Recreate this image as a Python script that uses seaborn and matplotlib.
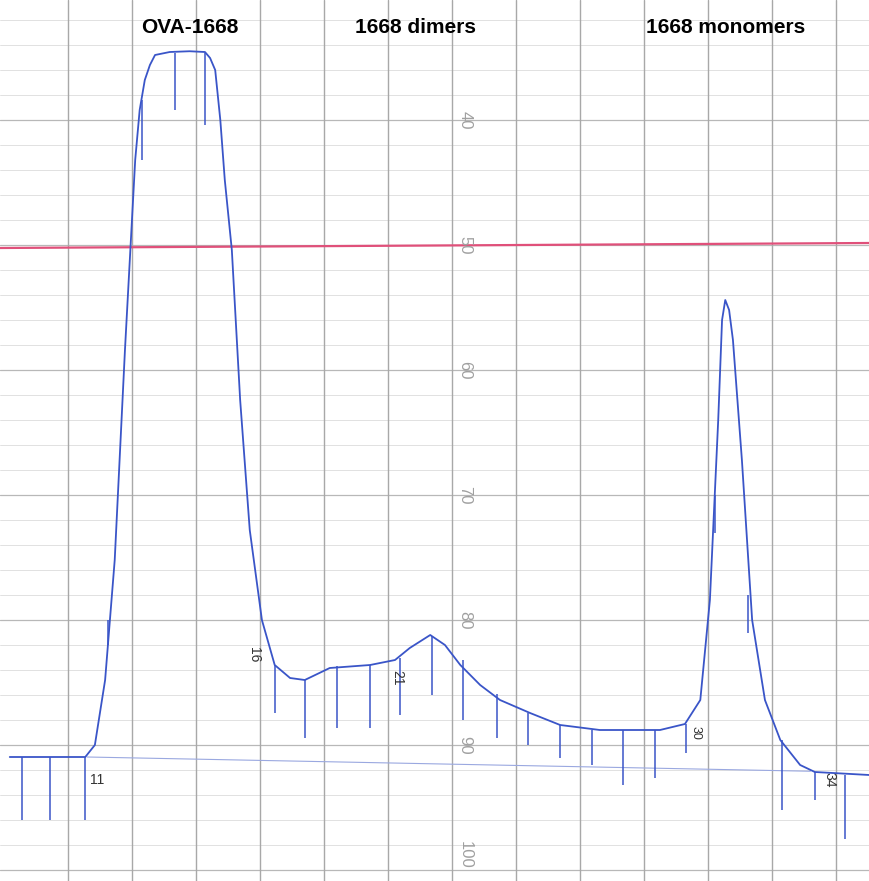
import numpy as np
import matplotlib.pyplot as plt
import seaborn as sns

sns.set_theme(style='white')
plt.rcParams['font.family'] = ['Liberation Sans', 'DejaVu Sans']

# chromatogram trace (chart divisions, % scale)
time = [-0.91, 0.27, 0.42, 0.58, 0.73, 0.89, 1.05, 1.12, 1.20, 1.28, 1.36, 1.59,
        1.90, 2.14, 2.22, 2.30, 2.38, 2.45, 2.56, 2.69, 2.84, 3.03, 3.23, 3.47,
        3.70, 4.09, 4.72, 5.11, 5.34, 5.66, 5.89, 6.13, 6.44, 6.75, 7.22, 7.69,
        8.31, 9.25, 9.64, 9.88, 10.03, 10.16, 10.22, 10.27, 10.33, 10.39, 10.53,
        10.69, 10.89, 11.13, 11.44, 11.67, 12.52]
signal = [90.96, 90.96, 90.0, 84.8, 75.2, 58.4, 43.2, 39.2, 36.8, 35.6, 34.8, 34.56,
          34.5, 34.56, 35.04, 36.0, 40.0, 44.8, 50.4, 62.4, 72.8, 80.0, 83.6, 84.64,
          84.8, 83.84, 83.6, 83.2, 82.24, 81.2, 82.0, 83.6, 85.2, 86.4, 87.44, 88.4,
          88.8, 88.8, 88.32, 86.4, 78.4, 64.0, 56.0, 54.4, 55.2, 57.6, 67.2,
          80.0, 86.4, 89.6, 91.6, 92.16, 92.4]

# fraction marks: position, top, bottom
mark_t = [-0.72, -0.28, 0.27, 0.63, 1.16, 1.67, 2.14, 3.23, 3.70, 4.20, 4.72,
          5.19, 5.69, 6.17, 6.70, 7.19, 7.69, 8.19, 8.67, 9.17, 9.66, 10.11, 10.63,
          11.16, 11.67, 12.14]
mark_top = [90.96, 90.96, 90.96, 80.0, 38.4, 34.6, 34.6, 83.6, 84.8, 83.7, 83.6,
            83.0, 81.3, 83.2, 85.9, 87.4, 88.4, 88.8, 88.8, 88.8, 88.3, 70.0, 78.0,
            89.6, 92.16, 92.4]
mark_bot = [96.0, 96.0, 96.0, 82.0, 43.2, 39.2, 40.4, 87.4, 89.4, 88.6, 88.6,
            87.6, 86.0, 88.0, 89.4, 90.0, 91.0, 91.6, 93.2, 92.6, 90.6, 73.0, 81.0,
            95.2, 94.4, 97.5]

pct_labels = [40, 50, 60, 70, 80, 90, 100]
peak_names = ['OVA-1668', '1668 dimers', '1668 monomers']
peak_pos = [1.9, 5.43, 10.27]

fig = plt.figure(figsize=(8.69, 8.81), dpi=100)
ax = fig.add_axes([0, 0, 1, 1])
ax.set_xlim(-1.0625, 12.516)
ax.set_ylim(100.88, 30.4)
ax.axis('off')

# chart paper grid
for v in np.arange(32, 101, 2):
    ax.axhline(v, color='#dcdcdc', lw=0.6, zorder=0)
for v in range(40, 101, 10):
    ax.axhline(v, color='#b8b8b8', lw=0.9, zorder=0)
for u in range(0, 13):
    ax.axvline(u, color='#a8a8a8', lw=1.0, zorder=0)
for lab in pct_labels:
    ax.text(6.2, min(lab, 98.8), str(lab), rotation=-90, ha='center', va='center',
            fontsize=12, color='#a0a0a0')

# recorder reference line
ax.plot([-1.0625, 12.516], [50.24, 49.84], color='#e0507a', lw=1.6, zorder=1)
# baseline
ax.plot([0.3, 11.6], [90.96, 92.1], color='#9aa8e0', lw=0.8, zorder=1)

sns.lineplot(x=time, y=signal, ax=ax, color='#3a55c8', lw=1.3, sort=False,
             estimator=None, zorder=3)
ax.vlines(mark_t, mark_top, mark_bot, color='#3a55c8', lw=1.1, zorder=3)

for name, pos in zip(peak_names, peak_pos):
    ax.text(pos, 32.6, name, ha='center', va='center', fontsize=15,
            fontweight='bold', color='black')

ax.text(0.45, 92.8, '11', fontsize=10, color='#333333', ha='center', va='center')
ax.text(2.9, 82.8, '16', rotation=-90, fontsize=10, color='#333333', ha='center', va='center')
ax.text(5.15, 84.6, '21', rotation=-90, fontsize=10, color='#333333', ha='center', va='center')
ax.text(9.8, 89.0, '30', rotation=-90, fontsize=9, color='#333333', ha='center', va='center')
ax.text(11.9, 92.8, '34', rotation=-90, fontsize=10, color='#333333', ha='center', va='center')

fig.savefig('out.png', dpi=100, facecolor='white')
